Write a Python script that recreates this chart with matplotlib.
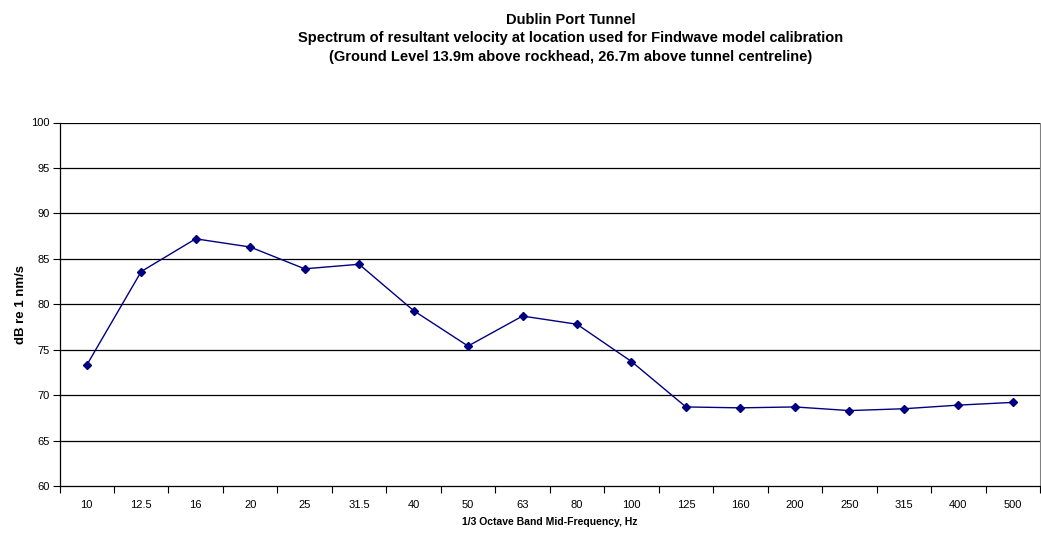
import numpy as np
import matplotlib.pyplot as plt

plt.rcParams['font.family'] = ['Liberation Sans', 'DejaVu Sans']

# 1/3 octave band mid-frequencies (categories)
freq_labels = ['10', '12.5', '16', '20', '25', '31.5', '40', '50', '63',
               '80', '100', '125', '160', '200', '250', '315', '400', '500']
# resultant velocity, dB re 1 nm/s
velocity_db = [73.3, 83.6, 87.2, 86.3, 83.9, 84.4, 79.3, 75.4, 78.7,
               77.8, 73.7, 68.7, 68.6, 68.7, 68.3, 68.5, 68.9, 69.2]

y_ticks = list(range(60, 101, 5))

fig = plt.figure(figsize=(10.41, 5.34), dpi=100)
ax = fig.add_axes([59.5 / 1041, 1 - 486 / 534, (1040 - 59.5) / 1041, (486 - 122.5) / 534])

x = np.arange(len(freq_labels))
ax.plot(x, velocity_db, color='#000080', lw=1, marker='D', ms=4.5,
        mfc='#000080', mec='#000080', zorder=3)

ax.set_xlim(-0.5, len(freq_labels) - 0.5)
ax.set_ylim(60, 100)
ax.set_yticks(y_ticks)
ax.set_yticklabels([str(v) for v in y_ticks], fontsize=8)

# category labels centred, ticks at the boundaries
ax.set_xticks(x)
ax.set_xticklabels(freq_labels, fontsize=8)
ax.tick_params(axis='x', length=0, pad=10)
ax.set_xticks(np.arange(-0.5, len(freq_labels)), minor=True)
ax.tick_params(axis='x', which='minor', length=5, width=0.8, direction='out')
ax.tick_params(axis='y', length=5, width=0.8, direction='out', pad=2)

for v in y_ticks[1:]:
    ax.axhline(v, color='black', lw=0.9, zorder=1)

ax.spines['top'].set_visible(False)
ax.spines['right'].set_color('#808080')
ax.spines['left'].set_linewidth(0.9)
ax.spines['bottom'].set_linewidth(0.9)

ax.set_xlabel('1/3 Octave Band Mid-Frequency, Hz', fontsize=7.5, fontweight='bold', labelpad=5)
ax.set_ylabel('dB re 1 nm/s', fontsize=9.5, fontweight='bold', labelpad=3)

title = ('Dublin Port Tunnel\n'
         'Spectrum of resultant velocity at location used for Findwave model calibration\n'
         '(Ground Level 13.9m above rockhead, 26.7m above tunnel centreline)')
fig.text(571 / 1041, 1 - 13 / 534, title, ha='center', va='top', fontsize=10.5,
         fontweight='bold', linespacing=1.4)

fig.savefig('out.png', dpi=100)
